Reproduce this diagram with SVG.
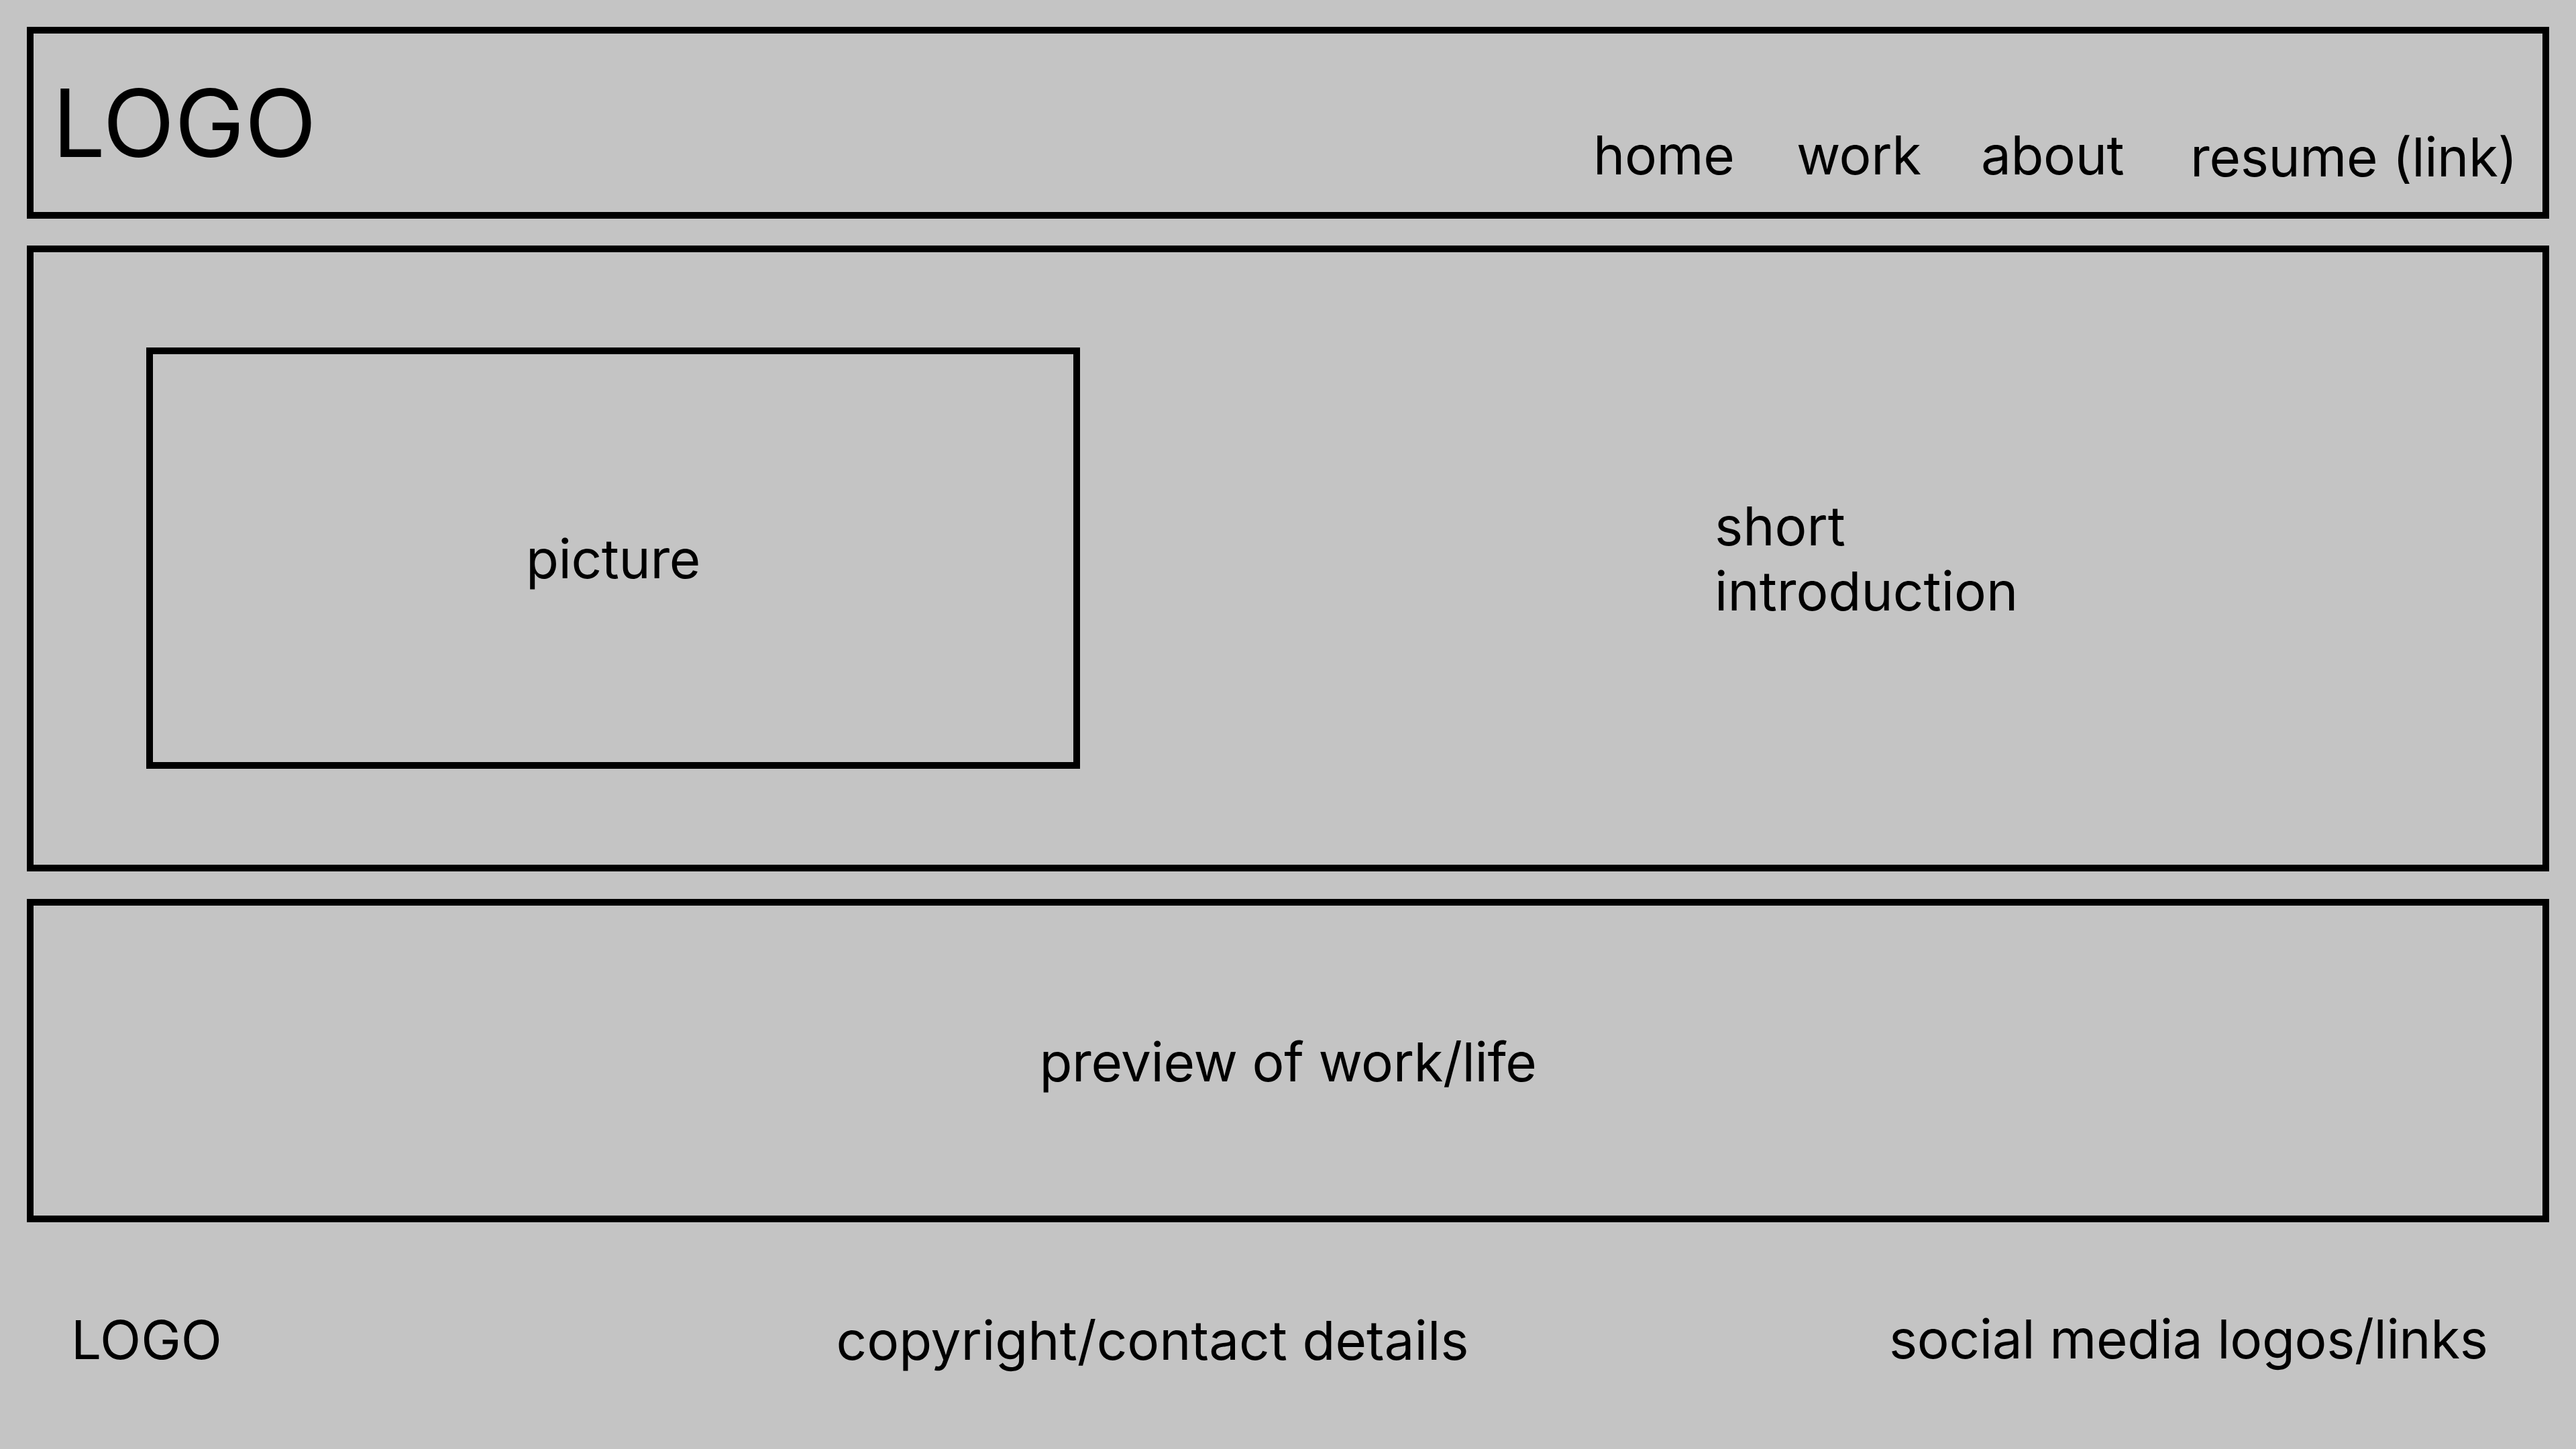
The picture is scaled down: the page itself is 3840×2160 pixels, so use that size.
<svg xmlns="http://www.w3.org/2000/svg" width="3840" height="2160" viewBox="0 0 3840 2160">
<style>
.box{fill:none;stroke:#000;stroke-width:10}
.t{font-family:Inter,"Liberation Sans",sans-serif;font-size:80px;fill:#000;letter-spacing:-0.4px}
.n{letter-spacing:0}
.logo{font-size:140px;letter-spacing:0}
</style>
<rect x="0" y="0" width="3840" height="2160" fill="#c4c4c4"/>
<g id="header">
<rect class="box" x="45" y="45" width="3750" height="276"/>
<text class="t logo" x="78" y="234">LOGO</text>
<text class="t" x="2375" y="260">home</text>
<text class="t" x="2678" y="260">work</text>
<text class="t" x="2953" y="260">about</text>
<text class="t" x="3265" y="263">resume (link)</text>
</g>
<g id="hero">
<rect class="box" x="45" y="371" width="3750" height="923"/>
<text class="t n" x="2556" y="813">short</text>
<text class="t n" x="2556" y="910">introduction</text>
</g>
<g id="picture">
<rect class="box" x="223" y="523" width="1382" height="618"/>
<text class="t" x="914" y="862" text-anchor="middle">picture</text>
</g>
<g id="preview">
<rect class="box" x="45" y="1345" width="3750" height="472"/>
<text class="t" x="1920" y="1612" text-anchor="middle">preview of work/life</text>
</g>
<g id="footer">
<text class="t n" x="106" y="2026">LOGO</text>
<text class="t n" x="1718" y="2027" text-anchor="middle">copyright/contact details</text>
<text class="t" x="2816" y="2025">social media logos/links</text>
</g>
<g id="connectors"></g>
</svg>
